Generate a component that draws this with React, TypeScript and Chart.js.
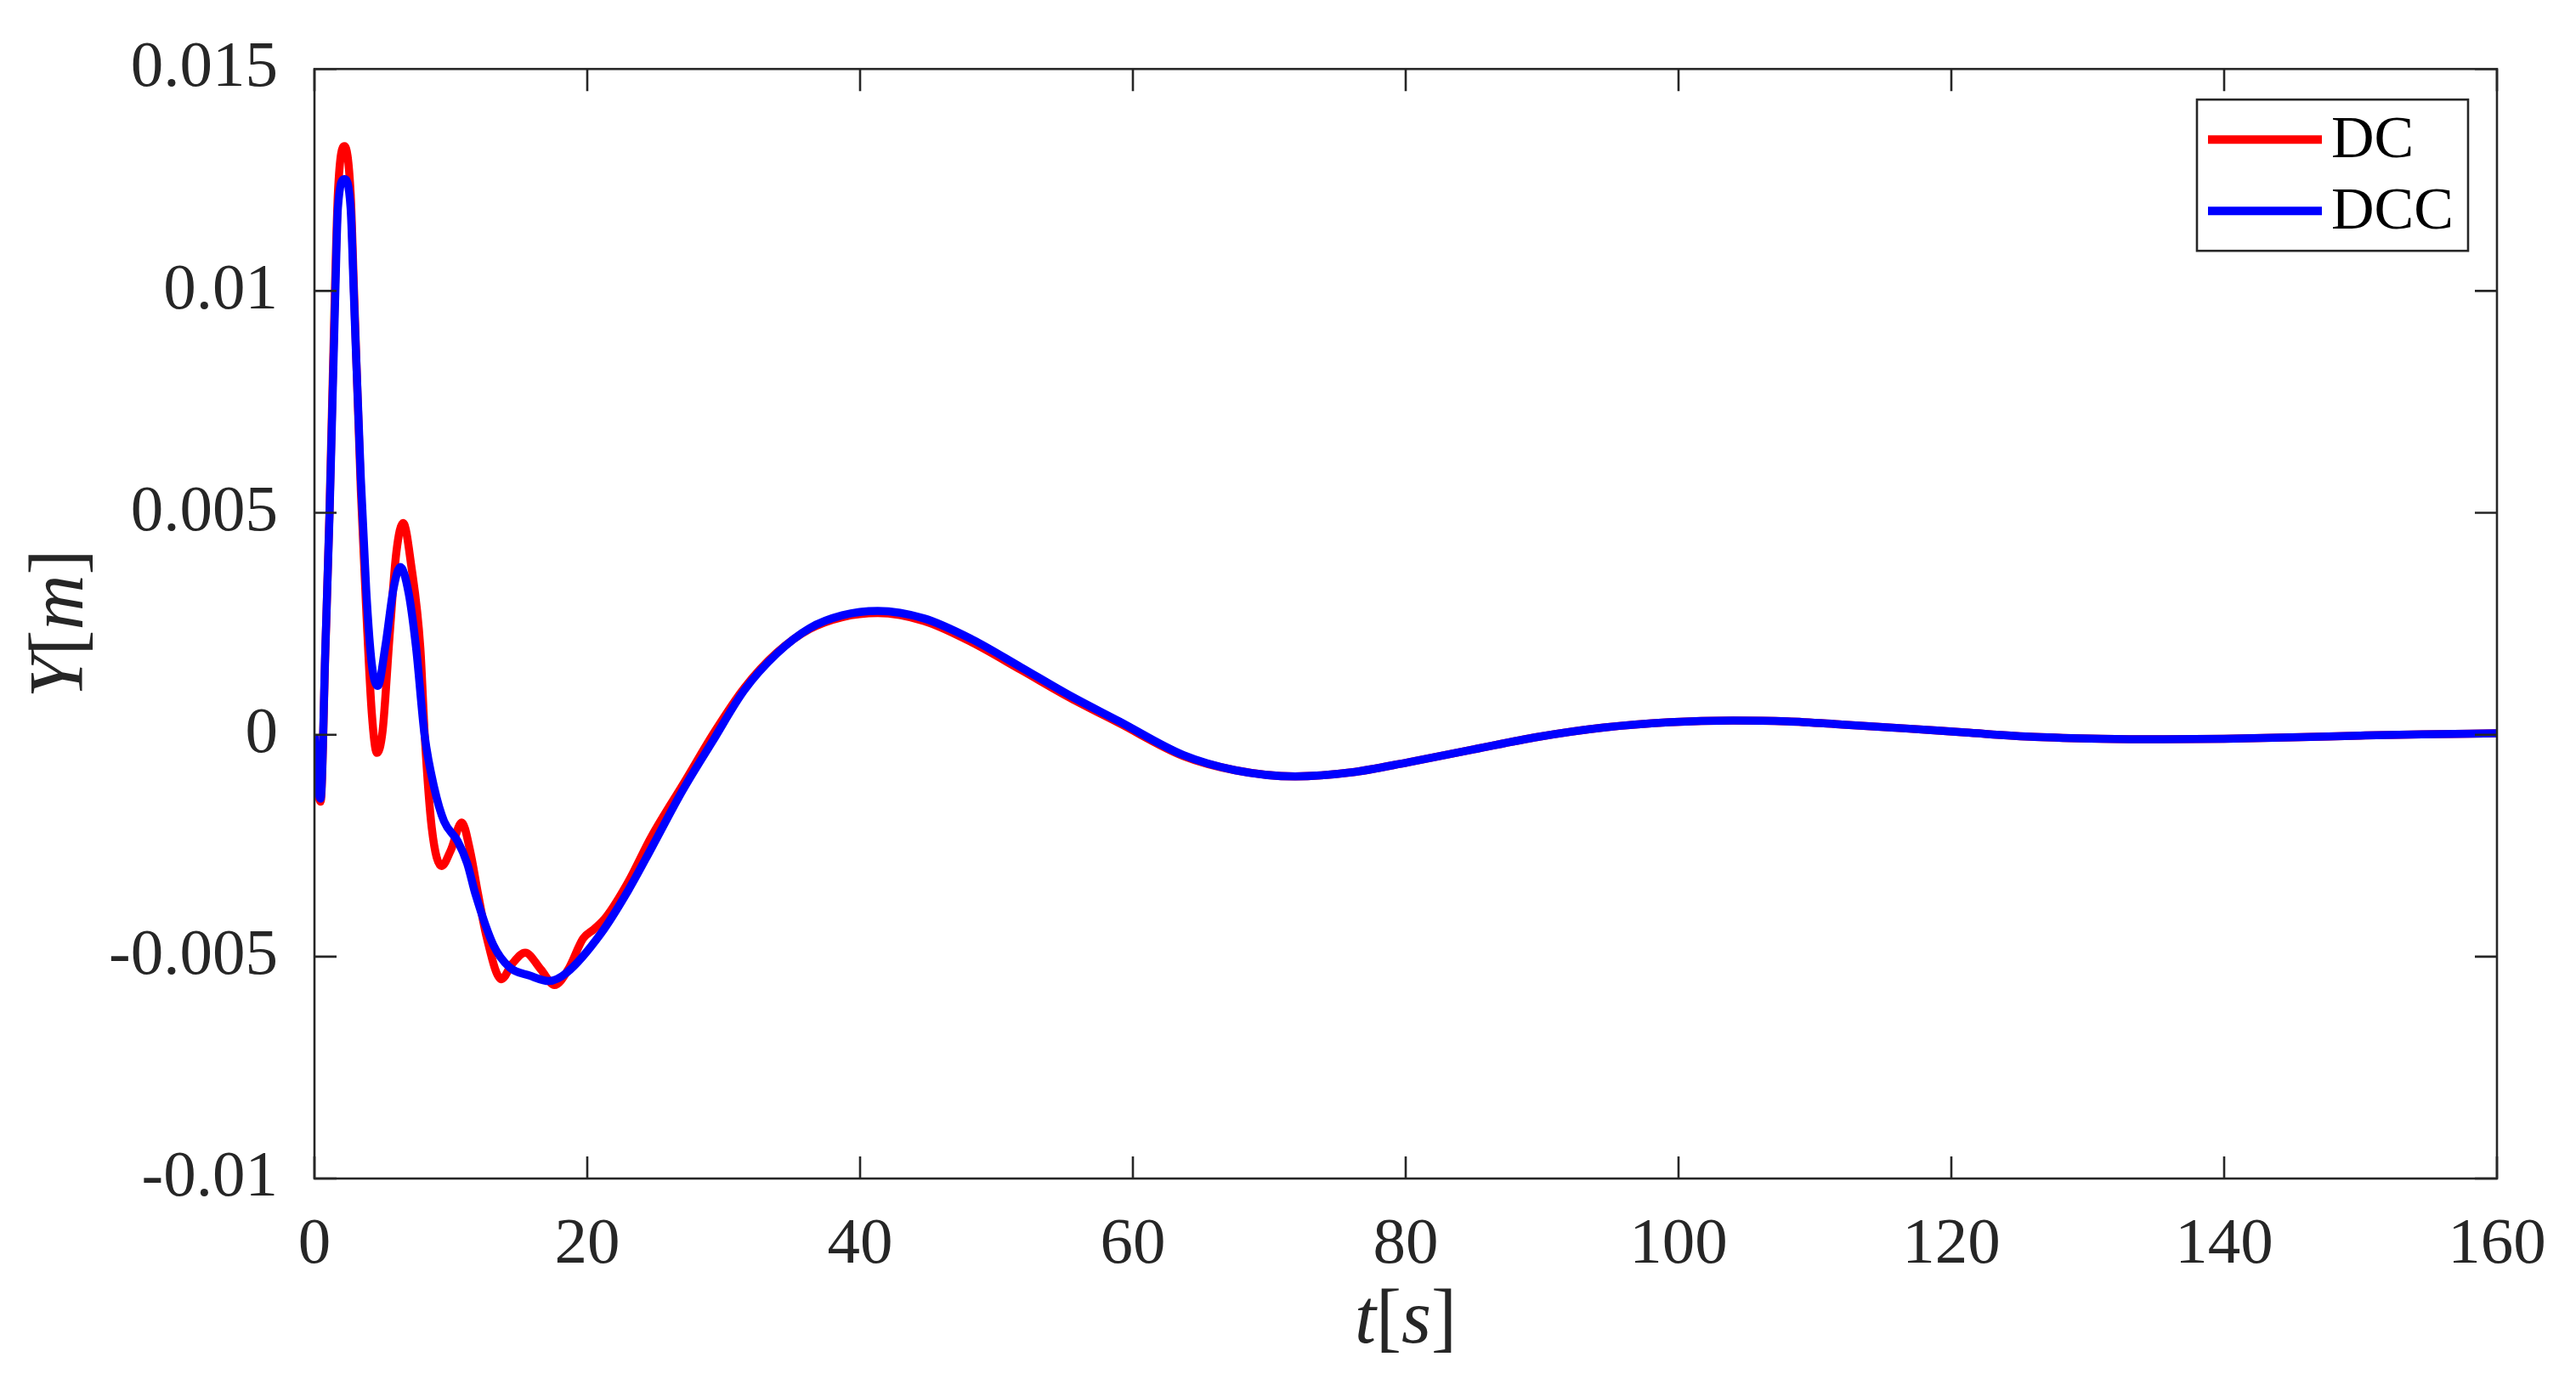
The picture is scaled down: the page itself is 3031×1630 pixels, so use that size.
import React, { useEffect, useRef } from "react";
import { Chart, registerables } from "chart.js";

Chart.register(...registerables);

// ---- Data ----
const DC_T = [0, 0.2, 0.45, 0.8, 1.1, 1.5, 1.72, 2.2, 2.65, 2.9, 3.4, 3.8, 4.2, 4.58, 5.0, 5.5, 6.0, 6.5, 7.1, 7.76, 8.1, 8.6, 9.32, 10.0, 10.8, 11.4, 12.0, 12.6, 13.7, 14.5, 15.45, 16.6, 17.6, 18.6, 19.7, 20.5, 21.4, 23.0, 24.7, 27.2, 29.3, 31.5, 33.9, 36.3, 38.7, 41.3, 44.7, 48.2, 51.8, 55.4, 59.0, 63.7, 67.5, 71.9, 76, 80.2, 85, 89.7, 94.5, 99.3, 104, 108, 112, 116.7, 121, 126.1, 131, 135.6, 140, 145, 150, 154.5, 160];
const DC_Y = [0, -0.0011, -0.00151, 0.0019, 0.005, 0.01, 0.0122, 0.01326, 0.0122, 0.01, 0.0055, 0.0028, 0.0005, -0.00041, 0.0001, 0.0022, 0.0041, 0.00477, 0.0038, 0.00196, -0.0001, -0.0021, -0.00296, -0.0026, -0.00198, -0.0026, -0.0036, -0.00453, -0.00551, -0.00516, -0.00491, -0.00529, -0.00564, -0.00529, -0.00459, -0.00438, -0.0041, -0.00332, -0.0023, -0.00103, 0.00005, 0.00105, 0.00185, 0.00238, 0.00265, 0.00274, 0.00256, 0.00208, 0.00146, 0.00083, 0.00026, -0.00048, -0.0008, -0.00094, -0.00085, -0.00062, -0.00033, -0.00005, 0.00016, 0.00028, 0.00032, 0.0003, 0.00023, 0.00014, 0.00005, -0.00005, -0.00009, -0.0001, -0.00009, -0.00006, -0.00002, 0.00001, 0.00003];

const DCC_T = [0, 0.2, 0.45, 0.8, 1.11, 1.53, 1.72, 2.2, 2.65, 2.88, 3.4, 3.8, 4.2, 4.64, 5.2, 5.8, 6.3, 6.9, 7.45, 8.07, 8.8, 9.5, 10.5, 11.2, 11.8, 13.1, 14.3, 15.8, 17.2, 18.5, 21.0, 23.0, 24.7, 27.0, 29.2, 31.5, 33.9, 36.3, 38.7, 41.3, 44.7, 48.2, 51.8, 55.4, 59.0, 63.7, 67.5, 71.9, 76, 80.2, 85, 89.7, 94.5, 99.3, 104, 108, 112, 116.7, 121, 126.1, 131, 135.6, 140, 145, 150, 154.5, 160];
const DCC_Y = [0, -0.001, -0.00144, 0.00196, 0.005, 0.00997, 0.01187, 0.01252, 0.01187, 0.00997, 0.00577, 0.00323, 0.0016, 0.0011, 0.002, 0.0033, 0.00378, 0.0032, 0.00196, 0, -0.00122, -0.00195, -0.0024, -0.0029, -0.00359, -0.00473, -0.00524, -0.00543, -0.00555, -0.00536, -0.00448, -0.00351, -0.00256, -0.00125, -0.00014, 0.001, 0.00183, 0.0024, 0.00269, 0.00279, 0.00262, 0.00215, 0.00152, 0.00088, 0.0003, -0.00046, -0.0008, -0.00094, -0.00085, -0.00062, -0.00033, -0.00005, 0.00016, 0.00028, 0.00032, 0.0003, 0.00023, 0.00014, 0.00005, -0.00005, -0.00009, -0.0001, -0.00009, -0.00006, -0.00002, 0.00001, 0.00003];

const X_TICKS = [0, 20, 40, 60, 80, 100, 120, 140, 160];
const X_TICK_LABELS = ["0", "20", "40", "60", "80", "100", "120", "140", "160"];
const Y_TICKS = [-0.01, -0.005, 0, 0.005, 0.01, 0.015];
const Y_TICK_LABELS = ["-0.01", "-0.005", "0", "0.005", "0.01", "0.015"];

const SERIES_LABELS = ["DC", "DCC"];
const SERIES_COLORS = ["#ff0000", "#0000ff"];

const AXIS_COLOR = "#262626";
const FONT = "'Liberation Serif', 'Times New Roman', serif";

type Part = { text: string; italic: boolean };

function drawMixed(ctx: CanvasRenderingContext2D, parts: Part[], size: number, cx: number, baseline: number) {
  const widths = parts.map((p) => {
    ctx.font = `${p.italic ? "italic " : ""}${size}px ${FONT}`;
    return ctx.measureText(p.text).width;
  });
  const total = widths.reduce((a, b) => a + b, 0);
  let x = cx - total / 2;
  ctx.textAlign = "left";
  ctx.textBaseline = "alphabetic";
  parts.forEach((p, i) => {
    ctx.font = `${p.italic ? "italic " : ""}${size}px ${FONT}`;
    ctx.fillText(p.text, x, baseline);
    x += widths[i];
  });
}

const framePlugin = {
  id: "matlabFrame",
  afterDraw(chart: any) {
    const { ctx, chartArea } = chart;
    const { left, right, top, bottom } = chartArea;
    const xs = chart.scales.x;
    const ys = chart.scales.y;
    ctx.save();
    ctx.strokeStyle = AXIS_COLOR;
    ctx.lineWidth = 2.6;
    ctx.strokeRect(left, top, right - left, bottom - top);
    const tl = 26;
    ctx.beginPath();
    X_TICKS.forEach((v) => {
      const px = xs.getPixelForValue(v);
      ctx.moveTo(px, bottom);
      ctx.lineTo(px, bottom - tl);
      ctx.moveTo(px, top);
      ctx.lineTo(px, top + tl);
    });
    Y_TICKS.forEach((v) => {
      const py = ys.getPixelForValue(v);
      ctx.moveTo(left, py);
      ctx.lineTo(left + tl, py);
      ctx.moveTo(right, py);
      ctx.lineTo(right - tl, py);
    });
    ctx.stroke();

    // axis titles
    ctx.fillStyle = AXIS_COLOR;
    drawMixed(
      ctx,
      [
        { text: "t", italic: true },
        { text: "[", italic: false },
        { text: "s", italic: true },
        { text: "]", italic: false },
      ],
      90,
      (left + right) / 2,
      1580
    );
    ctx.save();
    ctx.translate(97, (top + bottom) / 2);
    ctx.rotate(-Math.PI / 2);
    drawMixed(
      ctx,
      [
        { text: "Y", italic: true },
        { text: "[", italic: false },
        { text: "m", italic: true },
        { text: "]", italic: false },
      ],
      90,
      0,
      0
    );
    ctx.restore();

    // legend
    const bx = right - 353;
    const by = top + 36;
    const bw = 319;
    const bh = 178;
    ctx.fillStyle = "#ffffff";
    ctx.fillRect(bx, by, bw, bh);
    ctx.lineWidth = 2.6;
    ctx.strokeStyle = AXIS_COLOR;
    ctx.strokeRect(bx, by, bw, bh);
    chart.data.datasets.forEach((ds: any, i: number) => {
      const ly = by + 47 + i * 84;
      ctx.strokeStyle = ds.borderColor;
      ctx.lineWidth = 10;
      ctx.beginPath();
      ctx.moveTo(bx + 13, ly);
      ctx.lineTo(bx + 147, ly);
      ctx.stroke();
      ctx.fillStyle = "#000000";
      ctx.font = `70px ${FONT}`;
      ctx.textAlign = "left";
      ctx.textBaseline = "middle";
      ctx.fillText(ds.label, bx + 158, ly + 2);
    });
    ctx.restore();
  },
};

export default function App() {
  const canvasRef = useRef<HTMLCanvasElement | null>(null);

  useEffect(() => {
    document.body.style.margin = "0";
    document.body.style.overflow = "hidden";
    const canvas = canvasRef.current;
    if (!canvas) return;
    const chart = new Chart(canvas, {
      type: "line",
      data: {
        datasets: [
          {
            label: SERIES_LABELS[0],
            data: DC_T.map((t, i) => ({ x: t, y: DC_Y[i] })),
            borderColor: SERIES_COLORS[0],
            backgroundColor: SERIES_COLORS[0],
            borderWidth: 9.5,
            pointRadius: 0,
            cubicInterpolationMode: "monotone",
            fill: false,
            order: 2,
          },
          {
            label: SERIES_LABELS[1],
            data: DCC_T.map((t, i) => ({ x: t, y: DCC_Y[i] })),
            borderColor: SERIES_COLORS[1],
            backgroundColor: SERIES_COLORS[1],
            borderWidth: 9.5,
            pointRadius: 0,
            cubicInterpolationMode: "monotone",
            fill: false,
            order: 1,
          },
        ],
      },
      options: {
        responsive: false,
        animation: false,
        devicePixelRatio: 1,
        layout: { padding: { left: 0, top: 76, right: 93, bottom: 0 } },
        plugins: { legend: { display: false }, tooltip: { enabled: false } },
        scales: {
          x: {
            type: "linear",
            min: 0,
            max: 160,
            grid: { display: false },
            border: { display: false },
            afterBuildTicks: (scale: any) => {
              scale.ticks = X_TICKS.map((v) => ({ value: v }));
            },
            afterFit: (scale: any) => {
              scale.height = 243;
            },
            ticks: {
              autoSkip: false,
              maxRotation: 0,
              padding: 25,
              color: AXIS_COLOR,
              font: { family: FONT, size: 77 },
              callback: (v: any) => {
                const i = X_TICKS.findIndex((t) => Math.abs(t - Number(v)) < 1e-9);
                return i >= 0 ? X_TICK_LABELS[i] : "";
              },
            },
          },
          y: {
            type: "linear",
            min: -0.01,
            max: 0.015,
            grid: { display: false },
            border: { display: false },
            afterBuildTicks: (scale: any) => {
              scale.ticks = Y_TICKS.map((v) => ({ value: v }));
            },
            afterFit: (scale: any) => {
              scale.width = 370;
            },
            ticks: {
              autoSkip: false,
              padding: 35,
              color: AXIS_COLOR,
              font: { family: FONT, size: 77 },
              callback: (v: any) => {
                const i = Y_TICKS.findIndex((t) => Math.abs(t - Number(v)) < 1e-9);
                return i >= 0 ? Y_TICK_LABELS[i] : "";
              },
            },
          },
        },
      },
      plugins: [framePlugin],
    } as any);
    return () => chart.destroy();
  }, []);

  return (
    <div style={{ width: 3031, height: 1630, background: "#ffffff" }}>
      <canvas ref={canvasRef} width={3031} height={1630} style={{ display: "block" }} />
    </div>
  );
}
